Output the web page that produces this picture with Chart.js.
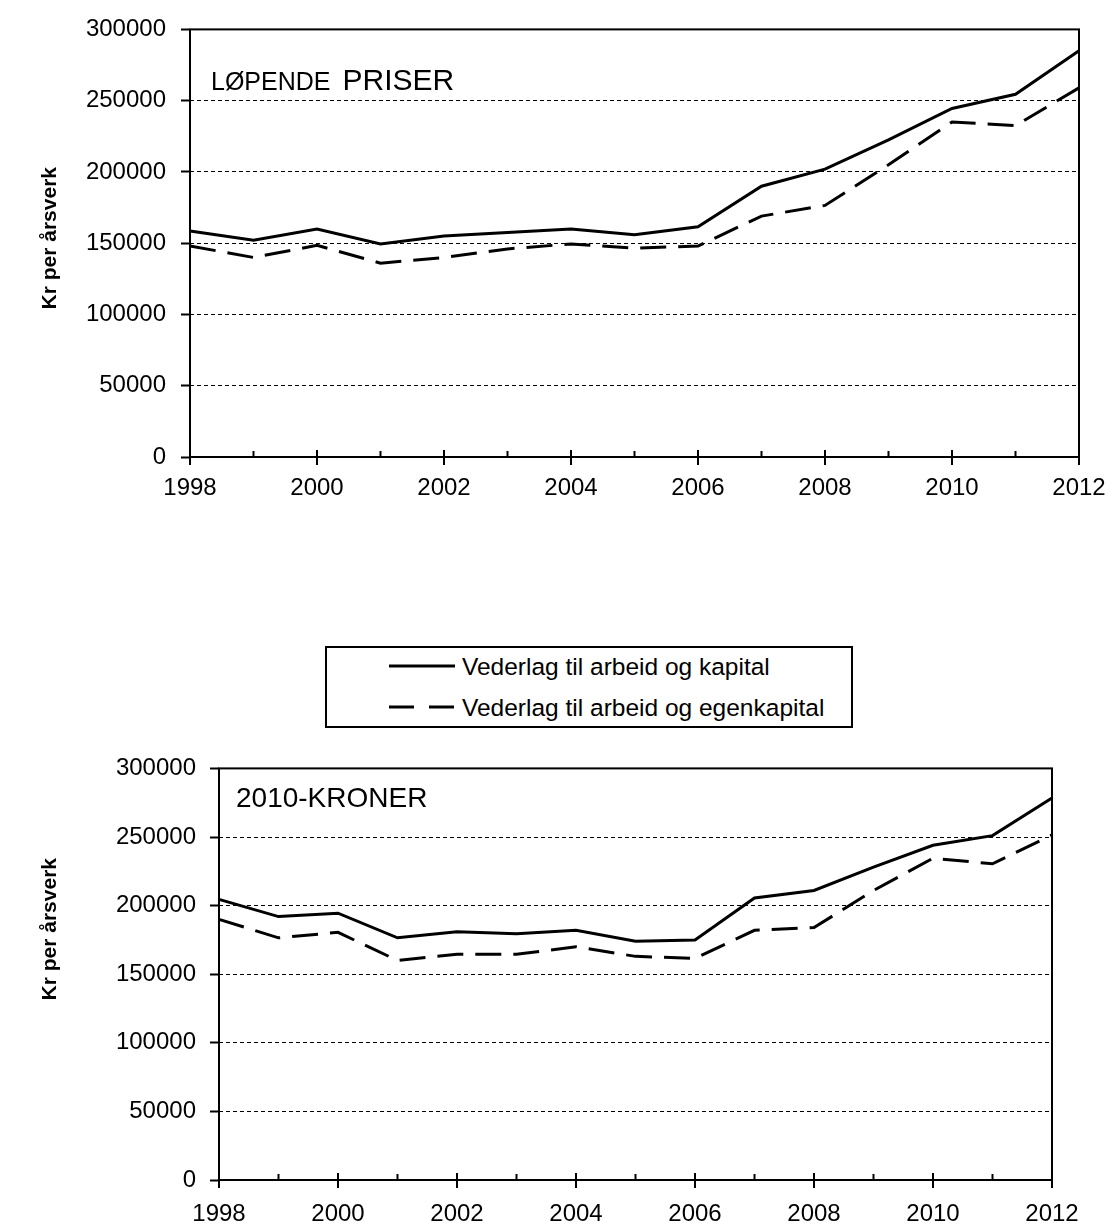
<!DOCTYPE html>
<html>
<head>
<meta charset="utf-8">
<script src="https://cdn.jsdelivr.net/npm/chart.js@4/dist/chart.umd.min.js"></script>
<style>
  body { margin: 0; background: #fff; width: 1112px; height: 1223px; overflow: hidden; position: relative; }
  .wrap { position: absolute; left: 0; width: 1112px; }
  #legend { position: absolute; left: 325px; top: 646px; }
</style>
</head>
<body>
<div class="wrap" style="top:0;height:520px"><canvas id="chartTop"></canvas></div>

<svg id="legend" width="530" height="84" font-family="Liberation Sans, Arial, sans-serif" font-size="24.5">
  <rect x="1" y="1" width="526" height="80" fill="#fff" stroke="#000" stroke-width="2"/>
  <line x1="64" y1="20" x2="130" y2="20" stroke="#000" stroke-width="3"/>
  <text x="137" y="28.5">Vederlag til arbeid og kapital</text>
  <line x1="64" y1="61" x2="130" y2="61" stroke="#000" stroke-width="3" stroke-dasharray="25 15"/>
  <text x="137" y="70">Vederlag til arbeid og egenkapital</text>
</svg>

<div class="wrap" style="top:740px;height:483px"><canvas id="chartBottom"></canvas></div>

<script>
const years = ["1998", "1999", "2000", "2001", "2002", "2003", "2004", "2005",
  "2006", "2007", "2008", "2009", "2010", "2011", "2012"];

const seriesNames = ["Vederlag til arbeid og kapital", "Vederlag til arbeid og egenkapital"];

// løpende priser
const topKapital = [158500, 152000, 160000, 149500, 155000, 157500, 160000, 156000,
  161500, 190000, 202000, 222500, 244500, 254500, 285000];
const topEgenkapital = [148000, 140000, 148500, 136000, 140000, 146000, 149500, 146500,
  148000, 169000, 176500, 205000, 235000, 232500, 259000];

// 2010-kroner
const bottomKapital = [204500, 192000, 194500, 176500, 181000, 179500, 182000, 174000,
  175000, 205500, 211000, 228000, 244000, 251000, 278500];
const bottomEgenkapital = [190000, 176500, 180500, 160000, 164500, 164500, 170000, 163000,
  161500, 182000, 184000, 211000, 234500, 230500, 251500];

const yTicks = [0, 50000, 100000, 150000, 200000, 250000, 300000];

const FONT = "Liberation Sans, Arial, sans-serif";
Chart.defaults.font.family = FONT;
Chart.defaults.color = "#000";

// frame, x tick marks, y title and the label inside the plot
const decor = {
  id: "decor",
  afterDraw(chart, args, opts) {
    const { ctx, chartArea: a } = chart;
    const x = chart.scales.x;
    ctx.save();
    ctx.setLineDash([]);
    ctx.strokeStyle = "#000";
    ctx.lineWidth = 2;
    ctx.strokeRect(a.left, a.top, a.right - a.left, a.bottom - a.top);

    years.forEach((yr, i) => {
      const px = x.getPixelForValue(i);
      ctx.beginPath();
      if (i % 2 === 0) {
        ctx.moveTo(px, a.bottom - 7);
        ctx.lineTo(px, a.bottom + 8);
      } else {
        ctx.moveTo(px, a.bottom - 6);
        ctx.lineTo(px, a.bottom);
      }
      ctx.stroke();
    });

    ctx.fillStyle = "#000";
    ctx.textBaseline = "alphabetic";
    ctx.textAlign = "left";
    let tx = a.left + opts.labelDx;
    opts.label.forEach(part => {
      ctx.font = part.size + "px " + FONT;
      ctx.fillText(part.text, tx, a.top + opts.labelDy);
      tx += ctx.measureText(part.text).width + 12;
    });

    ctx.translate(50, (a.top + a.bottom) / 2 + opts.titleDy);
    ctx.rotate(-Math.PI / 2);
    ctx.textAlign = "center";
    ctx.textBaseline = "middle";
    ctx.font = "bold 21px " + FONT;
    ctx.fillText("Kr per årsverk", 0, 0);
    ctx.restore();
  }
};

function makeChart(id, kapital, egenkapital, o) {
  return new Chart(document.getElementById(id).getContext("2d"), {
    type: "line",
    data: {
      labels: years,
      datasets: [
        {
          label: seriesNames[0],
          data: kapital,
          borderColor: "#000",
          borderWidth: 3,
          pointRadius: 0,
          tension: 0,
          fill: false,
        },
        {
          label: seriesNames[1],
          data: egenkapital,
          borderColor: "#000",
          borderWidth: 3,
          borderDash: [26, 12],
          pointRadius: 0,
          tension: 0,
          fill: false,
        },
      ],
    },
    options: {
      responsive: true,
      maintainAspectRatio: false,
      animation: false,
      layout: { padding: { left: 0, top: o.padTop, right: o.padRight, bottom: 0 } },
      plugins: {
        legend: { display: false },
        tooltip: { enabled: false },
        decor: o.decor,
      },
      scales: {
        x: {
          type: "category",
          offset: false,
          grid: {
            display: true,
            drawOnChartArea: false,
            drawTicks: true,
            tickLength: o.xGap,
            tickColor: "rgba(0,0,0,0)",
          },
          border: { display: false },
          ticks: {
            autoSkip: false,
            maxRotation: 0,
            padding: 0,
            font: { size: 24 },
            callback: (v, i) => (i % 2 === 0 ? years[i] : ""),
          },
          afterFit: s => { s.height = o.xHeight; },
        },
        y: {
          min: 0,
          max: 300000,
          afterBuildTicks: s => { s.ticks = yTicks.map(v => ({ value: v })); },
          ticks: {
            padding: o.yPad,
            font: { size: 24 },
            callback: v => String(v),
          },
          grid: {
            color: "#000",
            lineWidth: 1,
            drawTicks: true,
            tickLength: 9,
            tickColor: "#000",
            tickWidth: 2,
            tickBorderDash: [],
          },
          border: { display: false, dash: [4, 3] },
          afterFit: s => { s.width = o.yWidth; },
        },
      },
    },
    plugins: [decor],
  });
}

const chartTop = makeChart("chartTop", topKapital, topEgenkapital, {
  padTop: 27, padRight: 33, xHeight: 63, xGap: 17, yPad: 15, yWidth: 190,
  decor: {
    label: [{ text: "LØPENDE", size: 25 }, { text: "PRISER", size: 30 }],
    labelDx: 21, labelDy: 61, titleDy: -5,
  },
});

const chartBottom = makeChart("chartBottom", bottomKapital, bottomEgenkapital, {
  padTop: 27, padRight: 60, xHeight: 43, xGap: 20, yPad: 14, yWidth: 219,
  decor: {
    label: [{ text: "2010-KRONER", size: 28 }],
    labelDx: 17, labelDy: 39, titleDy: -45,
  },
});
</script>
</body>
</html>
